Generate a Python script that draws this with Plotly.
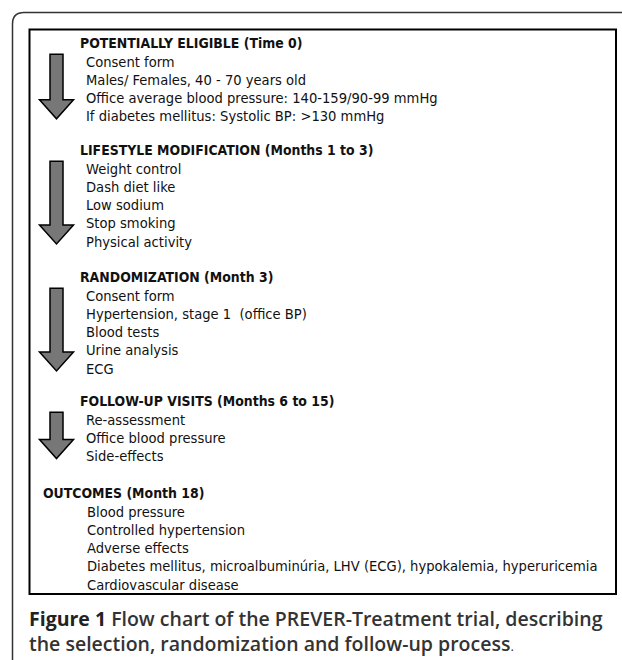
import plotly.graph_objects as go

# ---- content ----
headers = [
    "POTENTIALLY ELIGIBLE (Time 0)",
    "LIFESTYLE MODIFICATION (Months 1 to 3)",
    "RANDOMIZATION (Month 3)",
    "FOLLOW-UP VISITS (Months 6 to 15)",
    "OUTCOMES (Month 18)",
]
items_eligible = [
    "Consent form",
    "Males/ Females, 40 - 70 years old",
    "Office average blood pressure: 140-159/90-99 mmHg",
    "If diabetes mellitus: Systolic BP: >130 mmHg",
]
items_lifestyle = ["Weight control", "Dash diet like", "Low sodium", "Stop smoking", "Physical activity"]
items_random = ["Consent form", "Hypertension, stage 1  (office BP)", "Blood tests", "Urine analysis", "ECG"]
items_followup = ["Re-assessment", "Office blood pressure", "Side-effects"]
items_outcomes = [
    "Blood pressure",
    "Controlled hypertension",
    "Adverse effects",
    "Diabetes mellitus, microalbuminúria, LHV (ECG), hypokalemia, hyperuricemia",
    "Cardiovascular disease",
]
section_items = [items_eligible, items_lifestyle, items_random, items_followup, items_outcomes]
has_arrow = [True, True, True, True, False]
caption_bold = "Figure 1"
caption_rest = ["Flow chart of the PREVER-Treatment trial, describing",
                "the selection, randomization and follow-up process"]

# ---- layout ----
W, H = 622, 660
FONT = "DejaVu Sans Condensed, DejaVu Sans, sans-serif"
pitch = 18.2
header_start = [43, 150, 277, 401, 493]

fig = go.Figure()
ann = []
shapes = []

# outer frame with rounded top-left corner
shapes.append(dict(type="path", path="M 12.5 680 L 12.5 24 Q 12.5 12.5 24 12.5 L 640 12.5",
                   line=dict(color="#333333", width=1.5), xref="x", yref="y"))
# inner box
shapes.append(dict(type="rect", x0=29.5, y0=29.5, x1=616, y1=594,
                   line=dict(color="#000000", width=2), xref="x", yref="y"))

for i, (hdr, its) in enumerate(zip(headers, section_items)):
    hy = header_start[i]
    last = i == len(headers) - 1
    hx = 41 if last else 78
    ix = 85 if last else 84
    ann.append(dict(x=hx, y=hy, text="<b>" + hdr + "</b>", showarrow=False, xanchor="left",
                    yanchor="middle", font=dict(family=FONT, size=13.9, color="#111111")))
    ys = []
    for k, t in enumerate(its):
        y = hy + pitch * (k + 1)
        ys.append(y)
        ann.append(dict(x=ix, y=y, text=t, showarrow=False, xanchor="left", yanchor="middle",
                        font=dict(family=FONT, size=14.6, color="#111111")))
    if has_arrow[i]:
        top = ys[0] - 7
        tip = ys[-1] + 3
        hs = tip - 19
        p = (f"M 50 {top} L 63 {top} L 63 {hs} L 73.5 {hs} L 56.5 {tip} L 39.5 {hs} "
             f"L 50 {hs} Z")
        shapes.append(dict(type="path", path=p, fillcolor="#777777",
                           line=dict(color="#000000", width=1.5), xref="x", yref="y"))

# caption
CAPF = "Open Sans, sans-serif"
ann.append(dict(x=27, y=618, text="<span style='color:#222222'><b>" + caption_bold + "</b></span> " + caption_rest[0],
                showarrow=False, xanchor="left", yanchor="middle",
                font=dict(family=CAPF, size=19.5, color="#333333", weight=600)))
ann.append(dict(x=27, y=643, text=caption_rest[1] + "<span style='font-weight:400;font-size:13px'>.</span>",
                showarrow=False, xanchor="left", yanchor="middle",
                font=dict(family=CAPF, size=19.5, color="#333333", weight=600)))

fig.update_layout(
    width=W, height=H, margin=dict(l=0, r=0, t=0, b=0),
    paper_bgcolor="white", plot_bgcolor="white",
    xaxis=dict(range=[0, W], visible=False, fixedrange=True),
    yaxis=dict(range=[H, 0], visible=False, fixedrange=True),
    annotations=ann, shapes=shapes, showlegend=False,
)
fig.write_html("out.html", config={"displayModeBar": False},
               post_script="document.body.style.margin='0';document.body.style.overflow='hidden';")
